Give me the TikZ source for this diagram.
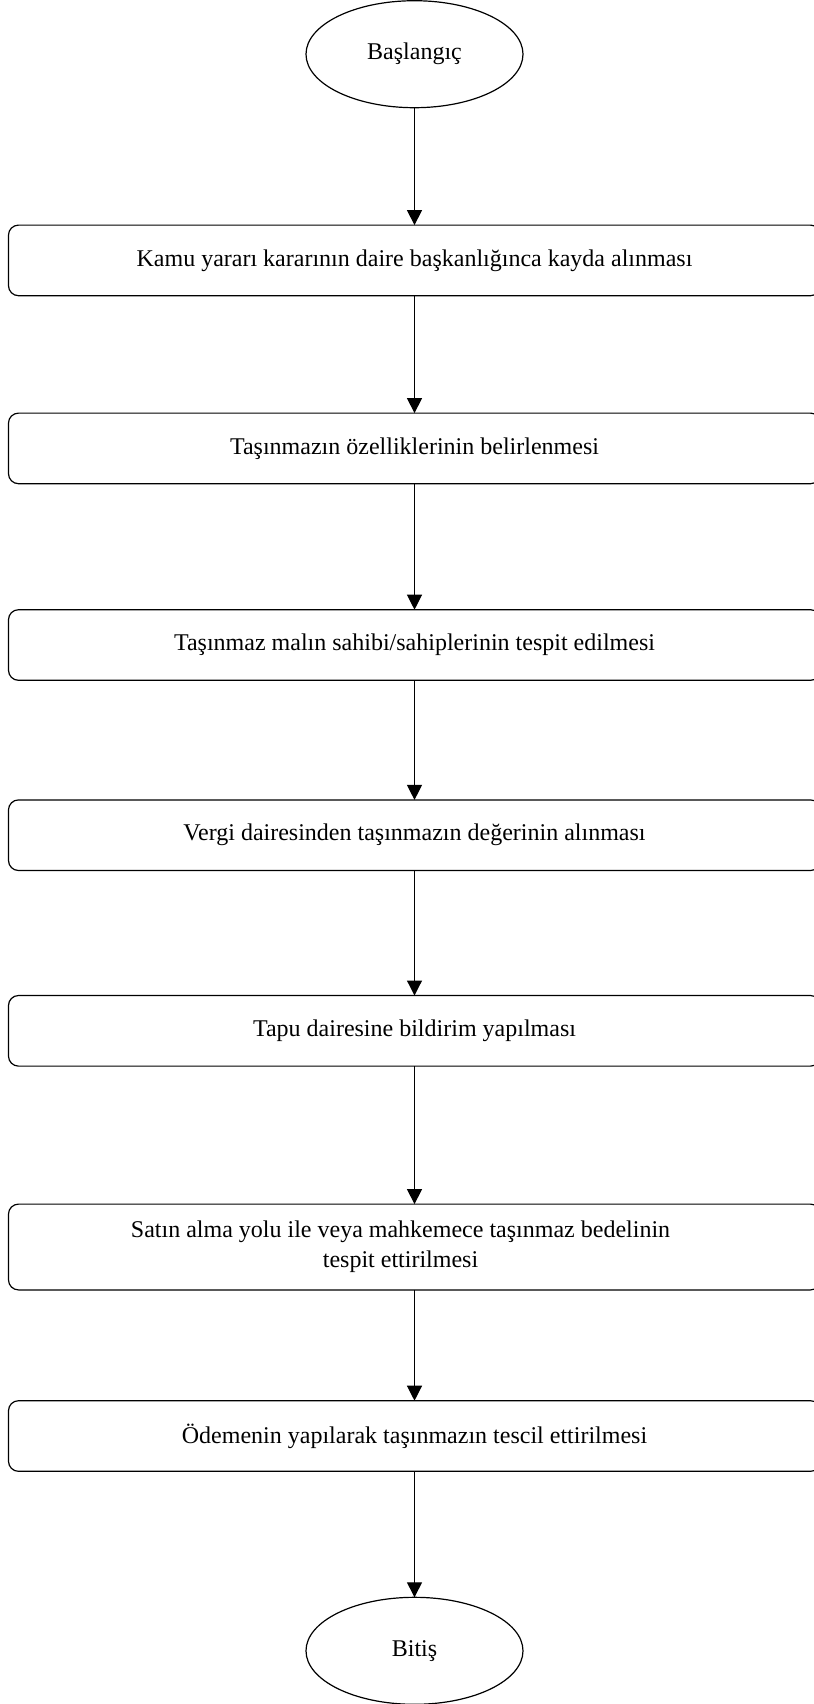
\documentclass[tikz,border=0pt]{standalone}
\usepackage{fontspec}
\setmainfont{Liberation Serif}
\usetikzlibrary{arrows.meta,positioning,shapes.geometric}

\begin{document}
\begin{tikzpicture}[
    x=1pt, y=1pt,
    node distance=60pt,
    font=\fontsize{12}{15}\selectfont,
    term/.style={draw, ellipse, minimum width=108.5pt, minimum height=53.5pt, inner sep=0pt, outer sep=0pt, line width=0.6pt},
    box/.style={draw, rounded corners=5pt, align=center, minimum width=406pt, minimum height=35.3pt, outer sep=0pt, line width=0.6pt},
    link/.style={-{Triangle[length=7.5pt, width=7.5pt]}, line width=0.6pt}
]
\useasboundingbox (0,0) rectangle (407,-852);
\node[term] (start) at (207.25,-27.1) {Başlangıç};
\node[box, below=58.7pt of start] (record) {Kamu yararı kararının daire başkanlığınca kayda alınması};
\node[box, below=58.7pt of record] (features) {Taşınmazın özelliklerinin belirlenmesi};
\node[box, below=63pt of features] (owners) {Taşınmaz malın sahibi/sahiplerinin tespit edilmesi};
\node[box, below=59.8pt of owners] (value) {Vergi dairesinden taşınmazın değerinin alınması};
\node[box, below=62.5pt of value] (notice) {Tapu dairesine bildirim yapılması};
\node[box, below=69pt of notice, minimum height=42.9pt] (price) {Satın alma yolu ile veya mahkemece taşınmaz bedelinin\hspace*{14pt}\\tespit ettirilmesi\hspace*{14pt}};
\node[box, below=55.4pt of price] (register) {Ödemenin yapılarak taşınmazın tescil ettirilmesi};
\node[term, below=63pt of register] (finish) {Bitiş};
\draw[link] (start) -- (record);
\draw[link] (record) -- (features);
\draw[link] (features) -- (owners);
\draw[link] (owners) -- (value);
\draw[link] (value) -- (notice);
\draw[link] (notice) -- (price);
\draw[link] (price) -- (register);
\draw[link] (register) -- (finish);
\end{tikzpicture}
\end{document}
